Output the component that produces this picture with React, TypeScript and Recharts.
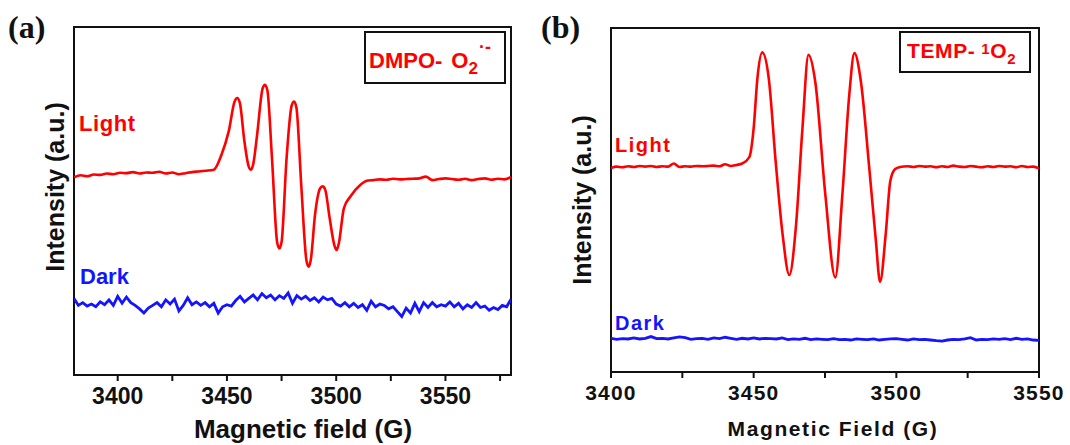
import { LineChart, Line, XAxis, YAxis, ReferenceArea } from 'recharts'

// EPR spectra, field in G, intensity in arbitrary units (0-100 frame scale)
const lightA: [number, number][] = [
  [3380, 56.8], [3383, 57.4], [3386, 57.1], [3389, 57.6], [3392, 57.5], [3395, 57.9], [3398, 57.7],
  [3401, 58.1], [3404, 58.0], [3407, 58.3], [3410, 57.9], [3413, 58.2], [3416, 58.1], [3419, 58.4],
  [3422, 57.9], [3425, 58.2], [3428, 57.7], [3431, 58.0], [3434, 58.3], [3437, 58.5], [3440, 58.7],
  [3444.0, 59.0], [3447.5, 63.3], [3450.8, 70.0], [3453.5, 78.6], [3454.7, 79.6], [3455.9, 78.2],
  [3458.0, 67.1], [3460.0, 59.8], [3461.0, 59.0], [3462.0, 60.5], [3463.8, 69.0], [3466.3, 82.3],
  [3467.4, 83.4], [3468.5, 81.8], [3470.6, 62.4], [3473.0, 38.0], [3474.0, 36.4], [3475.0, 38.2],
  [3477.3, 62.4], [3479.6, 77.4], [3480.7, 78.6], [3481.8, 76.8], [3484.0, 54.6], [3486.4, 32.8],
  [3487.4, 31.1], [3488.4, 33.2], [3490.3, 46.0], [3492.6, 53.6], [3493.8, 54.2], [3495.0, 53.2],
  [3497.0, 45.1], [3499.2, 37.2], [3500.2, 35.9], [3501.2, 37.8], [3503.5, 47.9], [3506.5, 51.3],
  [3511.0, 54.6], [3514.0, 55.8],
  [3517, 56.0], [3520, 56.2], [3523, 56.1], [3526, 56.4], [3529, 56.2], [3532, 56.3], [3535, 56.4],
  [3538, 56.5], [3541, 57.0], [3544, 56.0], [3547, 56.3], [3550, 56.5], [3553, 56.3], [3556, 56.1],
  [3559, 56.4], [3562, 56.0], [3565, 56.3], [3568, 56.5], [3571, 56.1], [3574, 56.4], [3577, 56.2],
  [3580, 56.9],
]

const darkA: [number, number][] = [
  [3380, 22.0], [3382, 20.0], [3384, 20.8], [3386, 19.8], [3388, 20.4], [3390, 19.6], [3392, 21.0],
  [3394, 20.2], [3396, 21.6], [3398, 20.0], [3400, 22.6], [3402, 20.6], [3404, 22.4], [3406, 20.8],
  [3408, 20.0], [3410, 19.0], [3412, 17.8], [3414, 19.2], [3416, 20.0], [3418, 20.8], [3420, 19.6],
  [3422, 21.6], [3424, 20.4], [3426, 21.8], [3428, 18.4], [3430, 20.0], [3432, 22.2], [3434, 20.2],
  [3436, 21.0], [3438, 20.0], [3440, 20.8], [3442, 19.6], [3444, 20.6], [3446, 17.8], [3448, 19.6],
  [3450, 20.2], [3452, 19.8], [3454, 21.4], [3456, 22.6], [3458, 21.0], [3460, 22.0], [3462, 23.0],
  [3464, 21.6], [3466, 23.4], [3468, 22.2], [3470, 23.0], [3472, 21.6], [3474, 22.8], [3476, 22.0],
  [3478, 23.6], [3480, 20.6], [3482, 22.8], [3484, 21.8], [3486, 22.6], [3488, 21.4], [3490, 22.2],
  [3492, 21.0], [3494, 22.4], [3496, 21.6], [3498, 22.0], [3500, 20.4], [3502, 19.8], [3504, 20.8],
  [3506, 19.6], [3508, 20.6], [3510, 19.4], [3512, 20.2], [3514, 18.6], [3516, 21.2], [3518, 19.6],
  [3520, 20.4], [3522, 20.0], [3524, 19.0], [3526, 19.6], [3528, 18.2], [3530, 16.8], [3532, 19.2],
  [3534, 17.8], [3536, 20.6], [3538, 18.2], [3540, 20.8], [3542, 19.4], [3544, 20.8], [3546, 19.6],
  [3548, 20.2], [3550, 19.8], [3552, 21.0], [3554, 19.6], [3556, 20.6], [3558, 19.0], [3560, 20.2],
  [3562, 19.4], [3564, 20.8], [3566, 19.4], [3568, 19.8], [3570, 18.6], [3572, 19.4], [3574, 18.8],
  [3576, 20.0], [3578, 19.6], [3580, 21.8],
]

const lightB: [number, number][] = [
  [3400, 59.3], [3402, 59.7], [3404, 59.5], [3406, 59.8], [3408, 59.6], [3410, 59.9], [3412, 59.7],
  [3414, 59.9], [3416, 59.6], [3418, 59.8], [3420, 59.7], [3422, 60.6], [3424, 59.6], [3426, 59.8],
  [3428, 59.7], [3430, 59.9], [3432, 59.8], [3434, 59.9], [3436, 60.0], [3438, 59.8], [3440, 60.4],
  [3442, 59.9], [3444, 60.2], [3446, 60.6],
  [3448.5, 62.5], [3450.0, 70.9], [3451.3, 85.3], [3453.0, 92.9], [3455.3, 85.3], [3457.7, 61.3],
  [3460.1, 40.3], [3462.5, 28.2], [3464.8, 42.2], [3467.1, 70.9], [3469.2, 92.2], [3471.6, 84.3],
  [3475.1, 51.7], [3478.6, 27.5], [3481.1, 51.7], [3483.5, 80.5], [3485.3, 92.7], [3487.6, 84.3],
  [3490.5, 59.4], [3492.8, 38.4], [3494.3, 26.2], [3496.3, 40.3], [3497.9, 55.6], [3499.6, 59.0],
  [3501.3, 59.6],
  [3504, 59.8], [3506, 59.6], [3508, 59.9], [3510, 59.7], [3512, 59.8], [3514, 59.5], [3516, 59.8],
  [3518, 59.6], [3520, 60.0], [3522, 59.7], [3524, 59.6], [3526, 59.9], [3528, 59.7], [3530, 59.5],
  [3532, 59.8], [3534, 59.6], [3536, 59.9], [3538, 59.7], [3540, 59.8], [3542, 59.5], [3544, 59.9],
  [3546, 59.6], [3548, 59.7], [3550, 59.2],
]

const darkB: [number, number][] = [
  [3400, 9.8], [3402, 9.5], [3404, 9.7], [3406, 9.6], [3408, 9.9], [3410, 9.6], [3412, 9.8],
  [3414, 10.3], [3416, 9.7], [3418, 9.8], [3420, 9.6], [3422, 9.9], [3424, 10.2], [3426, 10.0],
  [3428, 9.5], [3430, 9.7], [3432, 9.8], [3434, 9.5], [3436, 9.9], [3438, 9.7], [3440, 10.1],
  [3442, 9.8], [3444, 9.5], [3446, 9.8], [3448, 9.6], [3450, 9.9], [3452, 9.6], [3454, 9.8],
  [3456, 9.7], [3458, 9.6], [3460, 9.9], [3462, 9.4], [3464, 9.6], [3466, 9.5], [3468, 9.8],
  [3470, 9.4], [3472, 9.6], [3474, 9.5], [3476, 9.4], [3478, 9.7], [3480, 9.4], [3482, 9.5],
  [3484, 9.3], [3486, 9.6], [3488, 9.5], [3490, 9.4], [3492, 9.6], [3494, 9.3], [3496, 9.5],
  [3498, 9.6], [3500, 9.7], [3502, 9.5], [3504, 9.3], [3506, 9.6], [3508, 9.4], [3510, 9.5],
  [3512, 9.3], [3514, 9.1], [3516, 9.0], [3518, 9.3], [3520, 9.5], [3522, 9.4], [3524, 9.6],
  [3526, 10.0], [3528, 9.3], [3530, 9.5], [3532, 9.4], [3534, 9.6], [3536, 9.5], [3538, 9.7],
  [3540, 9.4], [3542, 9.8], [3544, 9.5], [3546, 9.6], [3548, 9.3], [3550, 9.2],
]

const ticksA = [3400, 3425, 3450, 3475, 3500, 3525, 3550, 3575]
const ticksB = [3400, 3425, 3450, 3475, 3500, 3525, 3550]

const RED = '#ff0000'
const BLUE = '#1414ff'
const FONT = '"Liberation Sans", Arial, sans-serif'
const SERIF = '"Liberation Serif", "Times New Roman", serif'

const pts = (rows: [number, number][]) => rows.map(([field, value]) => ({ field, value }))

interface PanelProps {
  light: [number, number][]
  dark: [number, number][]
  domain: [number, number]
  ticks: number[]
  width: number
  margin: { top: number; right: number; left: number; bottom: number }
  axisHeight: number
  tickFont: number
  tickSpacing: number
}

function Panel({ light, dark, domain, ticks, width, margin, axisHeight, tickFont, tickSpacing }: PanelProps) {
  return (
    <LineChart width={width} height={445} margin={margin}>
      <XAxis
        type="number"
        dataKey="field"
        domain={domain}
        ticks={ticks}
        interval={0}
        allowDataOverflow
        height={axisHeight}
        axisLine={false}
        tickLine={{ stroke: '#111', strokeWidth: 2 }}
        tickSize={6}
        tickMargin={7}
        tickFormatter={(v: number) => (v % 50 === 0 ? String(v) : '')}
        tick={{ fill: '#111', fontSize: tickFont, fontWeight: 700, fontFamily: FONT, letterSpacing: tickSpacing }}
      />
      <YAxis type="number" domain={[0, 100]} hide width={0} />
      <ReferenceArea
        x1={domain[0]}
        x2={domain[1]}
        y1={0}
        y2={100}
        fill="none"
        stroke="#111"
        strokeWidth={2}
        ifOverflow="visible"
      />
      <Line data={pts(light)} dataKey="value" type="monotone" stroke={RED} strokeWidth={2.6} dot={false} isAnimationActive={false} />
      <Line data={pts(dark)} dataKey="value" type="linear" stroke={BLUE} strokeWidth={2.8} dot={false} isAnimationActive={false} />
    </LineChart>
  )
}

export default function App() {
  return (
    <div style={{ position: 'absolute', left: 0, top: 0, width: 1070, height: 445, background: '#fff', overflow: 'hidden' }}>
      <div style={{ position: 'absolute', left: 0, top: 0 }}>
        <Panel
          light={lightA}
          dark={darkA}
          domain={[3380, 3580]}
          ticks={ticksA}
          width={540}
          margin={{ top: 27, right: 29, left: 74, bottom: 0 }}
          axisHeight={70}
          tickFont={23}
          tickSpacing={0}
        />
      </div>
      <div style={{ position: 'absolute', left: 540, top: 0 }}>
        <Panel
          light={lightB}
          dark={darkB}
          domain={[3400, 3550]}
          ticks={ticksB}
          width={530}
          margin={{ top: 28, right: 31, left: 71, bottom: 0 }}
          axisHeight={73}
          tickFont={21}
          tickSpacing={1.2}
        />
      </div>
      <svg width={1070} height={445} style={{ position: 'absolute', left: 0, top: 0, pointerEvents: 'none' }}>
        <g fontFamily={FONT} fontWeight={700}>
          <text x={8} y={38} fontFamily={SERIF} fontSize={32} fill="#111">(a)</text>
          <text x={541} y={38} fontFamily={SERIF} fontSize={32} fill="#111">(b)</text>

          <text x={64} y={187} fontSize={25} fill="#111" textAnchor="middle" transform="rotate(-90 64 187)">Intensity (a.u.)</text>
          <text x={591} y={200} fontSize={25} fill="#111" textAnchor="middle" transform="rotate(-90 591 200)">Intensity (a.u.)</text>

          <text x={303} y={438} fontSize={26} fill="#111" textAnchor="middle">Magnetic field (G)</text>
          <text x={833} y={436} fontSize={21} fill="#111" textAnchor="middle" letterSpacing={1.6}>Magnetic Field (G)</text>

          <text x={79} y={131} fontSize={22} fill={RED} letterSpacing={0.6}>Light</text>
          <text x={80} y={284} fontSize={22} fill={BLUE}>Dark</text>
          <text x={615} y={152} fontSize={20} fill={RED} letterSpacing={1.5}>Light</text>
          <text x={615} y={330} fontSize={20} fill={BLUE} letterSpacing={1.5}>Dark</text>

          <rect x={365} y={32} width={140} height={51} fill="#fff" stroke="#111" strokeWidth={2} />
          <text x={369} y={68} fontSize={22} fill={RED}>
            DMPO-
            <tspan dx={9}>O</tspan>
            <tspan fontSize={17} dy={6}>2</tspan>
            <tspan fontSize={18} dx={1} dy={-21}>·-</tspan>
          </text>

          <rect x={900} y={32} width={130} height={40} fill="#fff" stroke="#111" strokeWidth={2} />
          <text x={907} y={58} fontSize={21} fill={RED} letterSpacing={0.6}>
            TEMP-
            <tspan fontSize={15} dx={6} dy={-4}>1</tspan>
            <tspan fontSize={21} dy={4}>O</tspan>
            <tspan fontSize={15} dy={6}>2</tspan>
          </text>
        </g>
      </svg>
    </div>
  )
}
